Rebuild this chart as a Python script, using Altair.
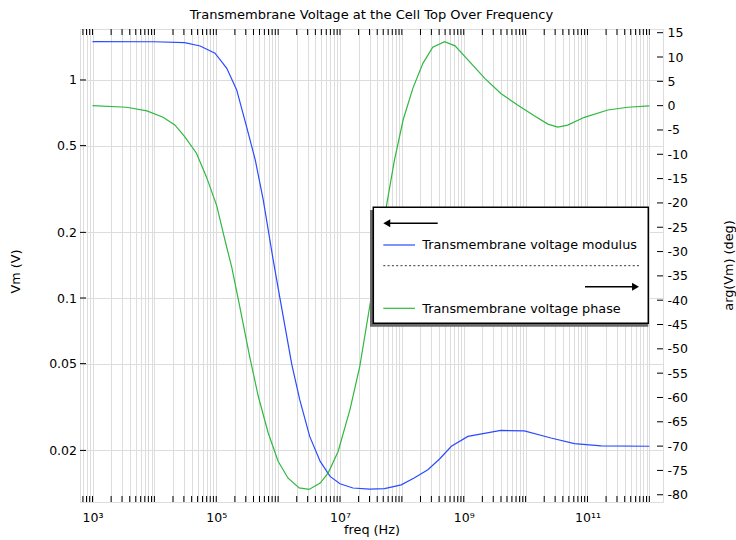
import altair as alt
import pandas as pd

# ---------------- text ----------------
TITLE = "Transmembrane Voltage at the Cell Top Over Frequency"
X_TITLE = "freq (Hz)"
Y_LEFT_TITLE = "Vm (V)"
Y_RIGHT_TITLE = "arg(Vm) (deg)"
LEGEND_LABELS = ["Transmembrane voltage modulus", "Transmembrane voltage phase"]

# ---------------- data ----------------
freq_modulus = [1.0e3, 1.0e4, 3.09e4, 5.50e4, 9.55e4, 1.48e5, 2.14e5, 3.09e5, 4.27e5,
                5.75e5, 8.32e5, 1.07e6, 1.66e6, 2.24e6, 3.24e6, 4.79e6, 6.92e6, 1.0e7,
                1.62e7, 3.02e7, 5.25e7, 9.77e7, 1.58e8, 2.63e8, 4.07e8, 6.31e8, 1.17e9,
                3.98e9, 9.55e9, 2.57e10, 6.17e10, 1.66e11, 1.0e12]
vm_modulus = [1.498, 1.497, 1.482, 1.432, 1.326, 1.131, 0.900, 0.611, 0.430,
              0.2818, 0.1496, 0.0999, 0.0498, 0.0341, 0.0232, 0.0178, 0.0152, 0.01407,
              0.01345, 0.0133, 0.01337, 0.0139, 0.01495, 0.0163, 0.01827, 0.0209, 0.0232,
              0.0247, 0.0246, 0.0228, 0.0215, 0.0210, 0.0209]

freq_phase = [1.0e3, 3.55e3, 7.59e3, 1.38e4, 2.14e4, 3.09e4, 4.79e4, 6.92e4, 1.02e5,
              1.38e5, 1.78e5, 2.40e5, 3.47e5, 4.79e5, 6.92e5, 1.0e6, 1.45e6, 2.19e6,
              3.16e6, 4.79e6, 6.46e6, 9.33e6, 1.45e7, 2.09e7, 3.02e7, 5.62e7, 7.59e7,
              1.05e8, 1.51e8, 2.19e8, 3.16e8, 4.90e8, 7.24e8, 1.17e9, 2.19e9, 3.98e9,
              7.41e9, 1.38e10, 2.29e10, 3.31e10, 4.79e10, 8.91e10, 2.14e11, 4.47e11, 1.0e12]
phase_deg = [0.0, -0.33, -1.09, -2.38, -3.97, -6.37, -9.78, -14.6, -20.6,
             -27.6, -33.2, -41.3, -51.6, -59.8, -67.3, -73.1, -76.6, -78.6,
             -78.9, -77.6, -75.5, -71.1, -62.5, -53.6, -41.3, -20.7, -11.2,
             -2.9, 3.6, 8.7, 12.0, 13.15, 12.3, 9.4, 5.6, 2.5,
             0.14, -2.1, -3.8, -4.4, -4.0, -2.4, -0.9, -0.33, -0.06]

# ---------------- axes ----------------
left_ticks = [0.02, 0.05, 0.1, 0.2, 0.5, 1]
right_ticks = [-80, -75, -70, -65, -60, -55, -50, -45, -40, -35, -30, -25, -20,
               -15, -10, -5, 0, 5, 10, 15]
x_major = [1000, 100000, 10000000, 1000000000, 100000000000]
x_major_labels = ["10³", "10⁵", "10⁷", "10⁹", "10¹¹"]

X_DOMAIN = [628.0, 1.663e12]
YL_DOMAIN = [0.0116, 1.713]
YR_DOMAIN = [-81.49, 15.76]

x_ticks = [float(m * 10 ** e) for e in range(2, 13) for m in range(1, 10)
           if X_DOMAIN[0] <= m * 10 ** e <= X_DOMAIN[1]]

# ---------------- style ----------------
W, H = 583, 473
FONT = "DejaVu Sans"
LABEL_FS = 12.5
TITLE_FS = 12.8
BLUE = "#2b4bff"
GREEN = "#2fb840"
GRID = "#dddddd"
TICK = 6

x_label_expr = " : ".join(
    f"abs(datum.value - {v}) < {v * 1e-6} ? '{lab}'" for v, lab in zip(x_major, x_major_labels)
) + " : ''"

xs = alt.Scale(type="log", domain=X_DOMAIN, nice=False)
yl = alt.Scale(type="log", domain=YL_DOMAIN, nice=False)
yr = alt.Scale(type="linear", domain=YR_DOMAIN, nice=False, zero=False)

common_label = dict(labelFont=FONT, labelFontSize=LABEL_FS, labelColor="black",
                    titleFont=FONT, titleFontSize=TITLE_FS, titleFontWeight="normal",
                    titleColor="black", ticks=False, tickSize=0, domain=False,
                    labelOverlap=False, labelFlush=False)

x_axis = alt.Axis(values=x_ticks, labelExpr=x_label_expr, grid=True, gridColor=GRID,
                  gridWidth=1, labelPadding=9.3, labelBaseline="top",
                  title=X_TITLE, titleX=W / 2, titleY=31.4, titleAlign="center",
                  titleBaseline="alphabetic", **common_label)
yl_axis = alt.Axis(values=left_ticks, labelExpr="'' + datum.value", grid=True,
                   gridColor=GRID, gridWidth=1, labelPadding=3.5,
                   title=Y_LEFT_TITLE, titleAngle=270, titleX=-60.5, titleY=242,
                   titleAlign="center", titleBaseline="alphabetic", **common_label)
yr_axis = alt.Axis(orient="right", values=right_ticks, labelExpr="'' + datum.value",
                   grid=False, labelPadding=4,
                   title=Y_RIGHT_TITLE, titleAngle=270, titleX=69.2, titleY=236,
                   titleAlign="center", titleBaseline="alphabetic", **common_label)

df_mod = pd.DataFrame({"freq": freq_modulus, "vm": vm_modulus})
df_phase = pd.DataFrame({"freq": freq_phase, "phase": phase_deg})
df_xt = pd.DataFrame({"freq": x_ticks})
df_lt = pd.DataFrame({"v": left_ticks})
df_rt = pd.DataFrame({"v": right_ticks})

X = alt.X("freq:Q", scale=xs, axis=x_axis)

blue = alt.Chart(df_mod).mark_line(color=BLUE, strokeWidth=1.2).encode(
    x=X, y=alt.Y("vm:Q", scale=yl, axis=yl_axis))
green = alt.Chart(df_phase).mark_line(color=GREEN, strokeWidth=1.2).encode(
    x=X, y=alt.Y("phase:Q", scale=yr, axis=yr_axis))

# inward ticks
xt_bottom = alt.Chart(df_xt).mark_rule(color="black", strokeWidth=1).encode(
    x=X, y=alt.value(H - TICK), y2=alt.value(H))
xt_top = alt.Chart(df_xt).mark_rule(color="black", strokeWidth=1).encode(
    x=X, y=alt.value(0), y2=alt.value(TICK))
lt = alt.Chart(df_lt).mark_rule(color="black", strokeWidth=1).encode(
    y=alt.Y("v:Q", scale=yl, axis=None), x=alt.value(0), x2=alt.value(TICK))
rt = alt.Chart(df_rt).mark_rule(color="black", strokeWidth=1).encode(
    y=alt.Y("v:Q", scale=yr, axis=None), x=alt.value(W - TICK), x2=alt.value(W))

# ---------------- legend box ----------------
one = pd.DataFrame({"k": [0]})
base = alt.Chart(one)
shadow = base.mark_rect(color="#6a6a6a").encode(
    x=alt.value(290), x2=alt.value(568.3), y=alt.value(181), y2=alt.value(297.7))
box = base.mark_rect(fill="white", stroke="black", strokeWidth=1.5).encode(
    x=alt.value(293.3), x2=alt.value(568.3), y=alt.value(178.3), y2=alt.value(294.3))
arrow_l = base.mark_rule(color="black", strokeWidth=1.6).encode(
    x=alt.value(306), x2=alt.value(357.7), y=alt.value(194.3))
head_l = base.mark_point(shape="triangle-left", filled=True, color="black",
                         size=64, opacity=1).encode(x=alt.value(306.8), y=alt.value(194.3))
arrow_r = base.mark_rule(color="black", strokeWidth=1.6).encode(
    x=alt.value(505), x2=alt.value(556), y=alt.value(257.7))
head_r = base.mark_point(shape="triangle-right", filled=True, color="black",
                         size=64, opacity=1).encode(x=alt.value(555.5), y=alt.value(257.7))
dots = base.mark_rule(color="#333333", strokeWidth=1, strokeDash=[2, 2.3]).encode(
    x=alt.value(303.3), x2=alt.value(559), y=alt.value(236.7))
sample_b = base.mark_rule(color=BLUE, strokeWidth=1.2).encode(
    x=alt.value(303.3), x2=alt.value(335), y=alt.value(216))
sample_g = base.mark_rule(color=GREEN, strokeWidth=1.2).encode(
    x=alt.value(303.3), x2=alt.value(335), y=alt.value(279.3))
text_b = base.mark_text(align="left", baseline="alphabetic", font=FONT,
                        fontSize=TITLE_FS, color="black").encode(
    x=alt.value(342.3), y=alt.value(220.3), text=alt.value(LEGEND_LABELS[0]))
text_g = base.mark_text(align="left", baseline="alphabetic", font=FONT,
                        fontSize=TITLE_FS, color="black").encode(
    x=alt.value(342.3), y=alt.value(283.7), text=alt.value(LEGEND_LABELS[1]))

chart = alt.layer(
    blue, green, xt_bottom, xt_top, lt, rt,
    shadow, box, arrow_l, head_l, arrow_r, head_r, dots,
    sample_b, sample_g, text_b, text_g,
).resolve_scale(y="independent").properties(
    width=W, height=H,
    padding={"left": 80, "top": 29, "right": 73, "bottom": 38},
    autosize=alt.AutoSizeParams(type="none"),
    title=alt.Title(TITLE, font=FONT, fontSize=13.05, fontWeight="normal",
                    color="black", anchor="middle", offset=5),
).configure_view(stroke="black", strokeWidth=1).configure(background="white")

chart.save("out.html", embed_options={"renderer": "svg", "actions": False})
